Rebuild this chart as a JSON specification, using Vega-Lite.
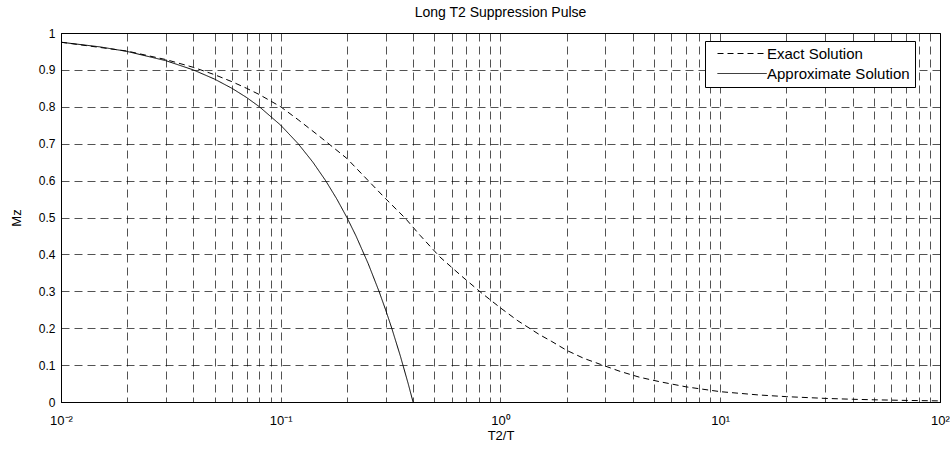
{
  "$schema": "https://vega.github.io/schema/vega-lite/v6.json",
  "width": 879,
  "height": 369,
  "autosize": "none",
  "padding": {"left": 61, "top": 33, "right": 10, "bottom": 47},
  "background": "white",
  "title": {"text": "Long T2 Suppression Pulse", "fontSize": 14, "fontWeight": "normal", "font": "Liberation Sans", "color": "black", "offset": 7},
  "config": {
    "view": {"stroke": "black", "strokeWidth": 1},
    "font": "Liberation Sans"
  },
  "data": {
    "values": [
      {"r": 0.01, "mz": 0.975, "series": "Exact Solution"},
      {"r": 0.02, "mz": 0.951, "series": "Exact Solution"},
      {"r": 0.03, "mz": 0.928, "series": "Exact Solution"},
      {"r": 0.04, "mz": 0.907, "series": "Exact Solution"},
      {"r": 0.05, "mz": 0.887, "series": "Exact Solution"},
      {"r": 0.06, "mz": 0.868, "series": "Exact Solution"},
      {"r": 0.07, "mz": 0.85, "series": "Exact Solution"},
      {"r": 0.08, "mz": 0.833, "series": "Exact Solution"},
      {"r": 0.1, "mz": 0.8, "series": "Exact Solution"},
      {"r": 0.12, "mz": 0.765, "series": "Exact Solution"},
      {"r": 0.15, "mz": 0.72, "series": "Exact Solution"},
      {"r": 0.2, "mz": 0.66, "series": "Exact Solution"},
      {"r": 0.25, "mz": 0.6, "series": "Exact Solution"},
      {"r": 0.3, "mz": 0.551, "series": "Exact Solution"},
      {"r": 0.37, "mz": 0.497, "series": "Exact Solution"},
      {"r": 0.43, "mz": 0.452, "series": "Exact Solution"},
      {"r": 0.53, "mz": 0.393, "series": "Exact Solution"},
      {"r": 0.66, "mz": 0.343, "series": "Exact Solution"},
      {"r": 0.81, "mz": 0.298, "series": "Exact Solution"},
      {"r": 1.0, "mz": 0.255, "series": "Exact Solution"},
      {"r": 1.2, "mz": 0.22, "series": "Exact Solution"},
      {"r": 1.5, "mz": 0.183, "series": "Exact Solution"},
      {"r": 1.7, "mz": 0.165, "series": "Exact Solution"},
      {"r": 2.0, "mz": 0.14, "series": "Exact Solution"},
      {"r": 2.4, "mz": 0.118, "series": "Exact Solution"},
      {"r": 2.85, "mz": 0.102, "series": "Exact Solution"},
      {"r": 3.5, "mz": 0.083, "series": "Exact Solution"},
      {"r": 4.3, "mz": 0.067, "series": "Exact Solution"},
      {"r": 5.3, "mz": 0.055, "series": "Exact Solution"},
      {"r": 7.0, "mz": 0.041, "series": "Exact Solution"},
      {"r": 10, "mz": 0.028, "series": "Exact Solution"},
      {"r": 15, "mz": 0.019, "series": "Exact Solution"},
      {"r": 20, "mz": 0.0145, "series": "Exact Solution"},
      {"r": 30, "mz": 0.0098, "series": "Exact Solution"},
      {"r": 40, "mz": 0.0074, "series": "Exact Solution"},
      {"r": 50, "mz": 0.006, "series": "Exact Solution"},
      {"r": 70, "mz": 0.0043, "series": "Exact Solution"},
      {"r": 100, "mz": 0.003, "series": "Exact Solution"},
      {"r": 0.01, "mz": 0.975, "series": "Approximate Solution"},
      {"r": 0.015, "mz": 0.9625, "series": "Approximate Solution"},
      {"r": 0.02, "mz": 0.95, "series": "Approximate Solution"},
      {"r": 0.03, "mz": 0.925, "series": "Approximate Solution"},
      {"r": 0.04, "mz": 0.9, "series": "Approximate Solution"},
      {"r": 0.05, "mz": 0.875, "series": "Approximate Solution"},
      {"r": 0.06, "mz": 0.85, "series": "Approximate Solution"},
      {"r": 0.07, "mz": 0.825, "series": "Approximate Solution"},
      {"r": 0.08, "mz": 0.8, "series": "Approximate Solution"},
      {"r": 0.1, "mz": 0.75, "series": "Approximate Solution"},
      {"r": 0.12, "mz": 0.7, "series": "Approximate Solution"},
      {"r": 0.14, "mz": 0.65, "series": "Approximate Solution"},
      {"r": 0.16, "mz": 0.6, "series": "Approximate Solution"},
      {"r": 0.18, "mz": 0.55, "series": "Approximate Solution"},
      {"r": 0.2, "mz": 0.5, "series": "Approximate Solution"},
      {"r": 0.22, "mz": 0.45, "series": "Approximate Solution"},
      {"r": 0.25, "mz": 0.375, "series": "Approximate Solution"},
      {"r": 0.28, "mz": 0.3, "series": "Approximate Solution"},
      {"r": 0.3, "mz": 0.25, "series": "Approximate Solution"},
      {"r": 0.32, "mz": 0.2, "series": "Approximate Solution"},
      {"r": 0.35, "mz": 0.125, "series": "Approximate Solution"},
      {"r": 0.38, "mz": 0.05, "series": "Approximate Solution"},
      {"r": 0.4, "mz": 0.0, "series": "Approximate Solution"}
    ]
  },
  "mark": {"type": "line", "color": "black", "strokeWidth": 1},
  "encoding": {
    "x": {
      "field": "r",
      "type": "quantitative",
      "scale": {"type": "log", "domain": [0.01, 100], "nice": false},
      "axis": {
        "title": "T2/T",
        "titleFontSize": 13,
        "titleFontWeight": "normal",
        "titleColor": "black",
        "titlePadding": 2,
        "values": [0.01, 0.02, 0.03, 0.04, 0.05, 0.06, 0.07, 0.08, 0.09, 0.1, 0.2, 0.3, 0.4, 0.5, 0.6, 0.7, 0.8, 0.9, 1, 2, 3, 4, 5, 6, 7, 8, 9, 10, 20, 30, 40, 50, 60, 70, 80, 90, 100],
        "labelExpr": "datum.value == 0.01 ? '10⁻²' : datum.value == 0.1 ? '10⁻¹' : datum.value == 1 ? '10⁰' : datum.value == 10 ? '10¹' : datum.value == 100 ? '10²' : ''",
        "labelFontSize": 13,
        "labelColor": "black",
        "labelPadding": 12,
        "labelFlush": false,
        "labelOverlap": false,
        "ticks": false,
        "domainColor": "black",
        "grid": true,
        "gridColor": "black",
        "gridOpacity": 0.85,
        "gridWidth": 0.8,
        "gridDash": [8, 5]
      }
    },
    "y": {
      "field": "mz",
      "type": "quantitative",
      "scale": {"domain": [0, 1], "nice": false},
      "axis": {
        "title": "Mz",
        "titleFontSize": 13,
        "titleFontWeight": "normal",
        "titleColor": "black",
        "titlePadding": 15,
        "values": [0, 0.1, 0.2, 0.3, 0.4, 0.5, 0.6, 0.7, 0.8, 0.9, 1],
        "labelExpr": "'' + datum.value",
        "labelFontSize": 12,
        "labelColor": "black",
        "labelPadding": 6,
        "labelFlush": false,
        "ticks": false,
        "domainColor": "black",
        "grid": true,
        "gridColor": "black",
        "gridOpacity": 0.85,
        "gridWidth": 0.8,
        "gridDash": [8, 5]
      }
    },
    "strokeDash": {
      "field": "series",
      "type": "nominal",
      "scale": {"domain": ["Exact Solution", "Approximate Solution"], "range": [[6, 4], [1, 0]]},
      "legend": {
        "title": null,
        "orient": "none",
        "legendX": 644,
        "legendY": 8,
        "strokeColor": "black",
        "fillColor": "white",
        "padding": 5,
        "labelFontSize": 15,
        "labelColor": "black",
        "labelOffset": 42,
        "symbolType": "M0,0H8.2",
        "symbolSize": 144,
        "symbolStrokeWidth": 1,
        "symbolStrokeColor": "black",
        "rowPadding": 4
      }
    }
  }
}
